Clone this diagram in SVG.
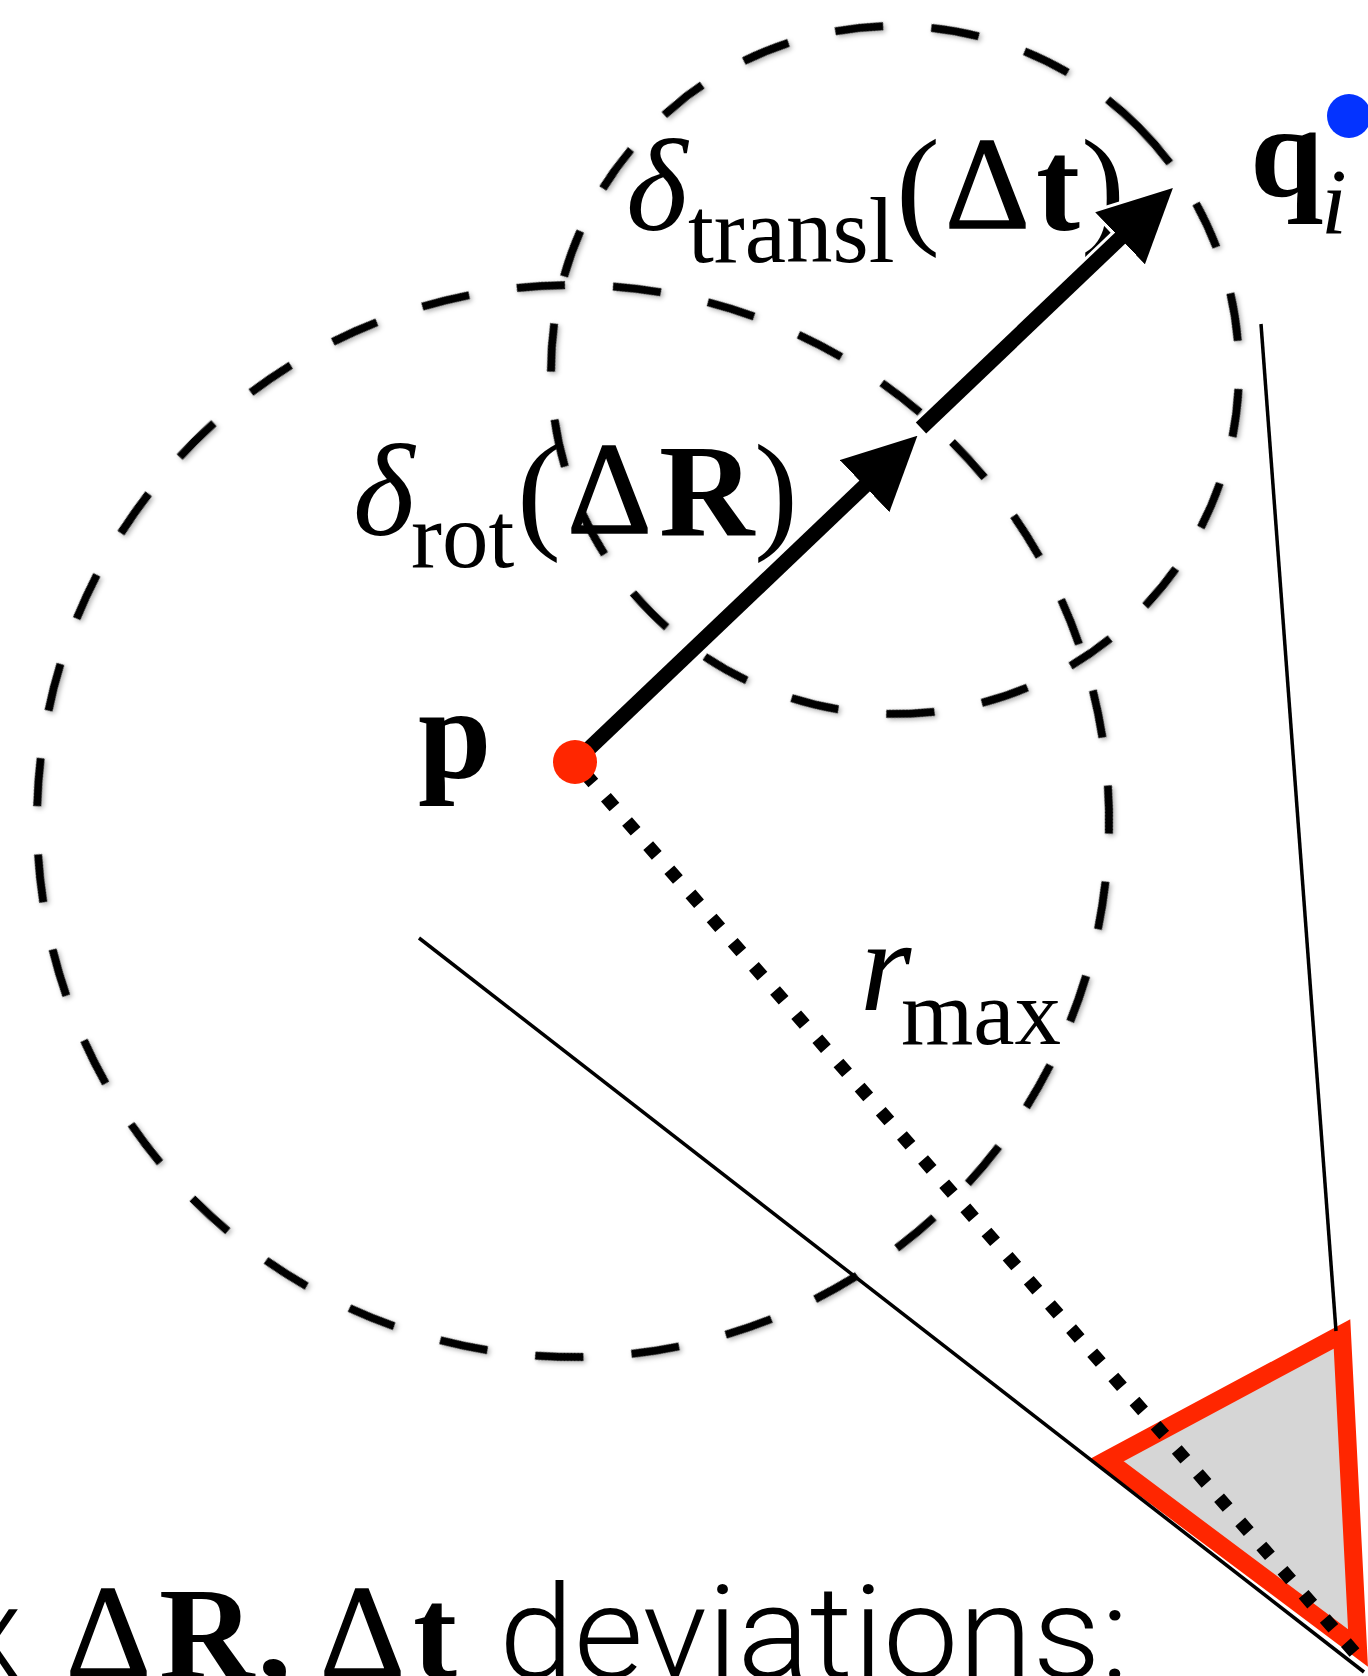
<svg xmlns="http://www.w3.org/2000/svg" width="1368" height="1676" viewBox="0 0 1368 1676">
<style>
.dash{fill:none;stroke:#000;stroke-width:8;stroke-dasharray:48.17 48.17;filter:url(#sh)}
.thin{fill:none;stroke:#000;stroke-width:3.5}
.shaft{fill:none;stroke:#000;stroke-width:15;marker-end:url(#ah)}
.halo{fill:none;stroke:#fff;stroke-width:21;marker-end:url(#ahw)}
.dots{fill:none;stroke:#000;stroke-width:13;stroke-dasharray:13 19.1;stroke-dashoffset:17.3}
.serif{font-family:"Liberation Serif","Times New Roman",serif;fill:#000}
.big{font-size:132px}
.sub{font-size:93px}
.it{font-style:italic}
.b{font-weight:bold}
.delta{stroke:#000;stroke-width:1.5;stroke-linejoin:miter}
.sans{font-family:Roboto,"Liberation Sans",sans-serif;font-weight:300;font-size:130px;fill:#000}
</style>
<defs>
<filter id="sh" x="-20%" y="-20%" width="140%" height="140%">
<feDropShadow dx="0" dy="3" stdDeviation="2.5" flood-color="#000" flood-opacity="0.3"/>
</filter>
<marker id="ah" viewBox="0 0 73 72" refX="23" refY="36" markerWidth="73" markerHeight="72" markerUnits="userSpaceOnUse" orient="auto">
<path d="M0,0 L73,36 L0,72 Z" fill="#000"/>
</marker>
<marker id="ahw" viewBox="-8 -8 89 88" refX="23" refY="36" markerWidth="89" markerHeight="88" markerUnits="userSpaceOnUse" orient="auto">
<path d="M0,0 L73,36 L0,72 Z" fill="#fff" stroke="#fff" stroke-width="6" stroke-linejoin="round"/>
</marker>
</defs>
<rect width="1368" height="1676" fill="#fff"/>

<g id="circle-rot">
<circle class="dash" cx="573" cy="821" r="536" transform="rotate(315 573 821)"/>
</g>
<g id="circle-transl">
<circle class="dash" cx="895" cy="370" r="344" transform="rotate(315 895 370)"/>
</g>

<g id="label-transl">
<text class="serif big it" x="626" y="230">δ</text>
<text class="serif sub" x="688" y="262">transl</text>
<text class="serif big" x="896" y="230">(</text>
<text class="serif big delta" x="945" y="228">Δ</text>
<text class="serif big b" x="1036" y="230">t</text>
<text class="serif big" x="1081" y="230">)</text>
</g>

<g id="label-rot">
<text class="serif big it" x="353" y="535">δ</text>
<text class="serif sub" x="411" y="567">rot</text>
<text class="serif big" x="517" y="535">(</text>
<text class="serif big delta" x="567" y="533">Δ</text>
<text class="serif big b" x="659" y="535">R</text>
<text class="serif big" x="754" y="535">)</text>
</g>

<g id="triangle">
<polygon points="1107,1460 1342,1334 1358,1648" fill="#d6d6d6" stroke="#ff2600" stroke-width="18" stroke-linejoin="miter"/>
</g>

<g id="connectors">
<line class="thin" x1="419" y1="938" x2="1364" y2="1672"/>
<line class="thin" x1="1261" y1="324" x2="1336" y2="1331"/>
<path class="dots" d="M575,762 L1362,1661"/>
<path class="halo" d="M921,428 L1136.7,222.4"/>
<path class="shaft" d="M575,762 L881.2,470.2"/>
<path class="shaft" d="M921,428 L1136.7,222.4"/>
</g>

<g id="point-p">
<circle cx="575" cy="762" r="22" fill="#ff2600"/>
<text class="serif big b" x="418" y="778">p</text>
</g>

<g id="point-q">
<circle cx="1349" cy="116" r="22" fill="#0433ff"/>
<text class="serif big b" x="1250" y="196">q</text>
<text class="serif sub it" x="1321" y="233">i</text>
</g>

<g id="label-rmax">
<text class="serif big it" x="860" y="1010">r</text>
<text class="serif sub" x="901" y="1044">max</text>
</g>

<g id="caption">
<text class="sans" x="22" y="1678" text-anchor="end">x</text>
<text class="serif big delta" x="66" y="1676">Δ</text>
<text class="serif big b" x="159" y="1678">R</text>
<text class="serif big b" x="258" y="1678">,</text>
<text class="serif big delta" x="320" y="1676">Δ</text>
<text class="serif big b" x="413" y="1678">t</text>
<text class="sans" x="499" y="1678" textLength="630" lengthAdjust="spacingAndGlyphs">deviations:</text>
</g>
</svg>
